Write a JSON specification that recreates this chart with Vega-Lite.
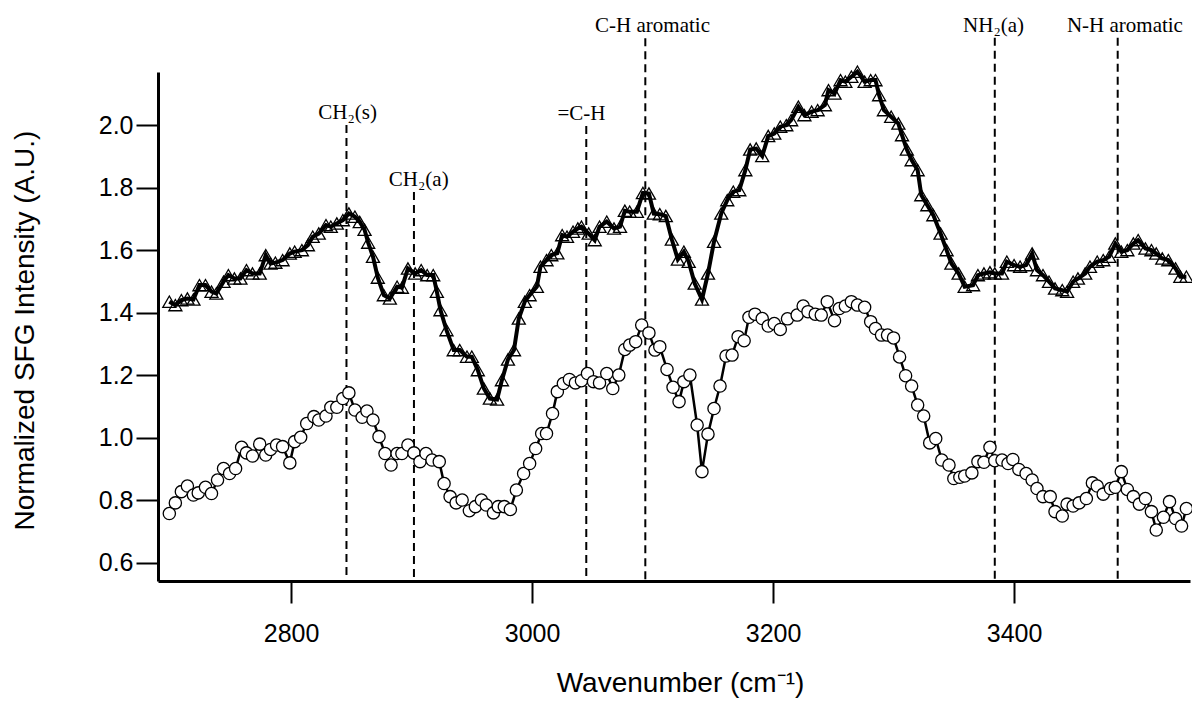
{
  "$schema": "https://vega.github.io/schema/vega-lite/v6.json",
  "width": 1032,
  "height": 509,
  "autosize": "none",
  "padding": {"left": 158, "top": 72, "right": 2, "bottom": 127},
  "background": "white",
  "config": {"view": {"stroke": null}},
  "datasets": {
    "tri": [
      {"wn":2699,"val":1.435},{"wn":2704,"val":1.424},{"wn":2709,"val":1.44},{"wn":2714,"val":1.445},{"wn":2719,"val":1.442},
      {"wn":2724,"val":1.488},{"wn":2729,"val":1.488},{"wn":2734,"val":1.467},{"wn":2738,"val":1.461},{"wn":2744,"val":1.499},
      {"wn":2748,"val":1.52},{"wn":2753,"val":1.509},{"wn":2758,"val":1.509},{"wn":2763,"val":1.536},{"wn":2768,"val":1.525},
      {"wn":2774,"val":1.525},{"wn":2779,"val":1.584},{"wn":2783,"val":1.557},{"wn":2787,"val":1.56},{"wn":2793,"val":1.568},
      {"wn":2799,"val":1.589},{"wn":2803,"val":1.595},{"wn":2809,"val":1.6},{"wn":2814,"val":1.616},{"wn":2818,"val":1.643},
      {"wn":2823,"val":1.653},{"wn":2829,"val":1.68},{"wn":2833,"val":1.675},{"wn":2838,"val":1.685},{"wn":2843,"val":1.696},
      {"wn":2848,"val":1.717},{"wn":2853,"val":1.707},{"wn":2857,"val":1.69},{"wn":2861,"val":1.665},{"wn":2864,"val":1.624},
      {"wn":2868,"val":1.579},{"wn":2872,"val":1.512},{"wn":2877,"val":1.456},{"wn":2882,"val":1.445},{"wn":2888,"val":1.483},
      {"wn":2892,"val":1.48},{"wn":2897,"val":1.541},{"wn":2903,"val":1.525},{"wn":2908,"val":1.536},{"wn":2913,"val":1.52},
      {"wn":2918,"val":1.52},{"wn":2921,"val":1.467},{"wn":2924,"val":1.408},{"wn":2929,"val":1.344},{"wn":2935,"val":1.28},
      {"wn":2940,"val":1.28},{"wn":2946,"val":1.259},{"wn":2950,"val":1.259},{"wn":2955,"val":1.216},{"wn":2960,"val":1.157},
      {"wn":2965,"val":1.125},{"wn":2971,"val":1.122},{"wn":2975,"val":1.184},{"wn":2980,"val":1.25},{"wn":2985,"val":1.28},
      {"wn":2989,"val":1.381},{"wn":2994,"val":1.435},{"wn":2998,"val":1.456},{"wn":3004,"val":1.483},{"wn":3007,"val":1.547},
      {"wn":3012,"val":1.568},{"wn":3016,"val":1.584},{"wn":3021,"val":1.59},{"wn":3025,"val":1.648},{"wn":3029,"val":1.643},
      {"wn":3034,"val":1.659},{"wn":3038,"val":1.669},{"wn":3041,"val":1.675},{"wn":3047,"val":1.653},{"wn":3052,"val":1.632},
      {"wn":3056,"val":1.675},{"wn":3062,"val":1.691},{"wn":3068,"val":1.669},{"wn":3073,"val":1.675},{"wn":3077,"val":1.726},
      {"wn":3081,"val":1.723},{"wn":3087,"val":1.723},{"wn":3092,"val":1.783},{"wn":3097,"val":1.781},{"wn":3101,"val":1.717},
      {"wn":3106,"val":1.715},{"wn":3111,"val":1.709},{"wn":3116,"val":1.634},{"wn":3121,"val":1.57},{"wn":3126,"val":1.595},
      {"wn":3130,"val":1.563},{"wn":3135,"val":1.493},{"wn":3141,"val":1.442},{"wn":3146,"val":1.525},{"wn":3151,"val":1.627},
      {"wn":3157,"val":1.717},{"wn":3162,"val":1.76},{"wn":3167,"val":1.787},{"wn":3172,"val":1.792},{"wn":3177,"val":1.856},
      {"wn":3181,"val":1.922},{"wn":3186,"val":1.925},{"wn":3191,"val":1.901},{"wn":3196,"val":1.965},{"wn":3201,"val":1.973},
      {"wn":3206,"val":1.995},{"wn":3211,"val":2.0},{"wn":3215,"val":2.016},{"wn":3221,"val":2.059},{"wn":3226,"val":2.032},
      {"wn":3232,"val":2.043},{"wn":3237,"val":2.048},{"wn":3243,"val":2.064},{"wn":3246,"val":2.112},{"wn":3251,"val":2.101},
      {"wn":3256,"val":2.144},{"wn":3260,"val":2.139},{"wn":3265,"val":2.155},{"wn":3270,"val":2.171},{"wn":3276,"val":2.139},
      {"wn":3281,"val":2.144},{"wn":3285,"val":2.144},{"wn":3288,"val":2.096},{"wn":3292,"val":2.048},{"wn":3298,"val":2.027},
      {"wn":3304,"val":2.005},{"wn":3307,"val":1.968},{"wn":3311,"val":1.922},{"wn":3315,"val":1.888},{"wn":3320,"val":1.856},
      {"wn":3323,"val":1.776},{"wn":3328,"val":1.744},{"wn":3333,"val":1.712},{"wn":3339,"val":1.653},{"wn":3344,"val":1.6},
      {"wn":3348,"val":1.557},{"wn":3354,"val":1.525},{"wn":3359,"val":1.483},{"wn":3366,"val":1.488},{"wn":3370,"val":1.52},
      {"wn":3375,"val":1.525},{"wn":3380,"val":1.529},{"wn":3384,"val":1.525},{"wn":3390,"val":1.525},{"wn":3394,"val":1.563},
      {"wn":3400,"val":1.552},{"wn":3405,"val":1.547},{"wn":3410,"val":1.552},{"wn":3415,"val":1.589},{"wn":3419,"val":1.536},
      {"wn":3424,"val":1.52},{"wn":3429,"val":1.499},{"wn":3434,"val":1.477},{"wn":3440,"val":1.472},{"wn":3444,"val":1.467},
      {"wn":3449,"val":1.499},{"wn":3453,"val":1.509},{"wn":3459,"val":1.525},{"wn":3463,"val":1.547},{"wn":3469,"val":1.563},
      {"wn":3474,"val":1.568},{"wn":3479,"val":1.579},{"wn":3484,"val":1.621},{"wn":3489,"val":1.595},{"wn":3494,"val":1.6},
      {"wn":3499,"val":1.621},{"wn":3503,"val":1.632},{"wn":3509,"val":1.605},{"wn":3514,"val":1.6},{"wn":3518,"val":1.589},
      {"wn":3523,"val":1.573},{"wn":3528,"val":1.568},{"wn":3534,"val":1.541},{"wn":3538,"val":1.515},{"wn":3543,"val":1.515}
    ],
    "circ": [
      {"wn":2699,"val":0.757},{"wn":2704,"val":0.791},{"wn":2709,"val":0.827},{"wn":2714,"val":0.845},{"wn":2719,"val":0.816},
      {"wn":2723,"val":0.823},{"wn":2729,"val":0.841},{"wn":2734,"val":0.821},{"wn":2739,"val":0.864},{"wn":2744,"val":0.901},
      {"wn":2749,"val":0.885},{"wn":2754,"val":0.901},{"wn":2759,"val":0.969},{"wn":2763,"val":0.951},{"wn":2768,"val":0.941},
      {"wn":2774,"val":0.979},{"wn":2779,"val":0.944},{"wn":2783,"val":0.962},{"wn":2788,"val":0.976},{"wn":2793,"val":0.971},
      {"wn":2799,"val":0.919},{"wn":2803,"val":0.987},{"wn":2808,"val":1.001},{"wn":2813,"val":1.045},{"wn":2819,"val":1.067},
      {"wn":2823,"val":1.056},{"wn":2829,"val":1.069},{"wn":2833,"val":1.097},{"wn":2838,"val":1.097},{"wn":2843,"val":1.125},
      {"wn":2848,"val":1.143},{"wn":2853,"val":1.088},{"wn":2859,"val":1.065},{"wn":2863,"val":1.085},{"wn":2868,"val":1.056},
      {"wn":2873,"val":1.003},{"wn":2878,"val":0.949},{"wn":2883,"val":0.912},{"wn":2888,"val":0.949},{"wn":2892,"val":0.949},
      {"wn":2897,"val":0.976},{"wn":2902,"val":0.951},{"wn":2907,"val":0.923},{"wn":2912,"val":0.949},{"wn":2917,"val":0.928},
      {"wn":2923,"val":0.923},{"wn":2927,"val":0.853},{"wn":2932,"val":0.811},{"wn":2937,"val":0.791},{"wn":2942,"val":0.8},
      {"wn":2948,"val":0.766},{"wn":2953,"val":0.779},{"wn":2958,"val":0.8},{"wn":2962,"val":0.784},{"wn":2968,"val":0.759},
      {"wn":2972,"val":0.779},{"wn":2977,"val":0.779},{"wn":2982,"val":0.77},{"wn":2987,"val":0.832},{"wn":2993,"val":0.885},
      {"wn":2998,"val":0.917},{"wn":3003,"val":0.965},{"wn":3008,"val":1.013},{"wn":3012,"val":1.013},{"wn":3017,"val":1.077},
      {"wn":3021,"val":1.147},{"wn":3026,"val":1.173},{"wn":3031,"val":1.186},{"wn":3036,"val":1.175},{"wn":3041,"val":1.182},
      {"wn":3046,"val":1.205},{"wn":3051,"val":1.179},{"wn":3056,"val":1.175},{"wn":3062,"val":1.205},{"wn":3067,"val":1.157},
      {"wn":3072,"val":1.2},{"wn":3077,"val":1.282},{"wn":3081,"val":1.296},{"wn":3086,"val":1.307},{"wn":3091,"val":1.36},
      {"wn":3097,"val":1.335},{"wn":3102,"val":1.28},{"wn":3106,"val":1.291},{"wn":3112,"val":1.218},{"wn":3117,"val":1.161},
      {"wn":3122,"val":1.115},{"wn":3126,"val":1.179},{"wn":3131,"val":1.2},{"wn":3137,"val":1.04},{"wn":3141,"val":0.891},
      {"wn":3146,"val":1.011},{"wn":3151,"val":1.093},{"wn":3156,"val":1.165},{"wn":3161,"val":1.261},{"wn":3166,"val":1.264},
      {"wn":3171,"val":1.323},{"wn":3176,"val":1.31},{"wn":3180,"val":1.385},{"wn":3185,"val":1.395},{"wn":3191,"val":1.381},
      {"wn":3196,"val":1.357},{"wn":3201,"val":1.365},{"wn":3206,"val":1.346},{"wn":3212,"val":1.38},{"wn":3220,"val":1.392},
      {"wn":3225,"val":1.421},{"wn":3229,"val":1.403},{"wn":3235,"val":1.395},{"wn":3240,"val":1.392},{"wn":3245,"val":1.435},
      {"wn":3251,"val":1.374},{"wn":3255,"val":1.413},{"wn":3260,"val":1.421},{"wn":3265,"val":1.435},{"wn":3270,"val":1.424},
      {"wn":3276,"val":1.417},{"wn":3281,"val":1.371},{"wn":3285,"val":1.349},{"wn":3290,"val":1.328},{"wn":3295,"val":1.328},
      {"wn":3300,"val":1.319},{"wn":3305,"val":1.258},{"wn":3310,"val":1.198},{"wn":3315,"val":1.165},{"wn":3320,"val":1.104},
      {"wn":3325,"val":1.069},{"wn":3330,"val":0.983},{"wn":3335,"val":0.997},{"wn":3340,"val":0.928},{"wn":3346,"val":0.912},
      {"wn":3350,"val":0.869},{"wn":3355,"val":0.873},{"wn":3359,"val":0.877},{"wn":3365,"val":0.887},{"wn":3370,"val":0.923},
      {"wn":3375,"val":0.921},{"wn":3380,"val":0.969},{"wn":3384,"val":0.926},{"wn":3390,"val":0.928},{"wn":3395,"val":0.917},
      {"wn":3399,"val":0.93},{"wn":3404,"val":0.898},{"wn":3410,"val":0.885},{"wn":3415,"val":0.864},{"wn":3419,"val":0.837},
      {"wn":3424,"val":0.811},{"wn":3430,"val":0.811},{"wn":3434,"val":0.763},{"wn":3440,"val":0.749},{"wn":3444,"val":0.787},
      {"wn":3449,"val":0.781},{"wn":3454,"val":0.791},{"wn":3460,"val":0.805},{"wn":3465,"val":0.855},{"wn":3469,"val":0.845},
      {"wn":3474,"val":0.819},{"wn":3480,"val":0.837},{"wn":3484,"val":0.841},{"wn":3489,"val":0.891},{"wn":3494,"val":0.834},
      {"wn":3499,"val":0.811},{"wn":3504,"val":0.787},{"wn":3509,"val":0.805},{"wn":3514,"val":0.763},{"wn":3518,"val":0.704},
      {"wn":3524,"val":0.745},{"wn":3529,"val":0.795},{"wn":3534,"val":0.741},{"wn":3539,"val":0.717},{"wn":3543,"val":0.773}
    ],
    "ann": [
      {"wn":2846,"lwn":2847,"top":2.0,"label":"CH₂(s)"},
      {"wn":2902,"lwn":2906,"top":1.786,"label":"CH₂(a)"},
      {"wn":3045,"lwn":3041,"top":1.997,"label":"=C-H"},
      {"wn":3094,"lwn":3100,"top":2.278,"label":"C-H aromatic"},
      {"wn":3384,"lwn":3383,"top":2.28,"label":"NH₂(a)"},
      {"wn":3486,"lwn":3492,"top":2.28,"label":"N-H aromatic"}
    ]
  },
  "encoding": {
    "x": {
      "field": "wn", "type": "quantitative",
      "scale": {"domain": [2689.6, 3546], "nice": false, "zero": false},
      "axis": {
        "title": "Wavenumber (cm⁻¹)",
        "values": [2800, 3000, 3200, 3400],
        "format": "d",
        "grid": false,
        "domainColor": "black", "domainWidth": 3,
        "tickColor": "black", "tickWidth": 2, "tickSize": 22,
        "labelFont": "Liberation Sans", "labelFontSize": 25, "labelColor": "black", "labelPadding": 18,
        "titleFont": "Liberation Sans", "titleFontSize": 28, "titleFontWeight": "normal", "titleColor": "black",
        "titleBaseline": "alphabetic", "titleX": 522, "titleY": 110
      }
    }
  },
  "layer": [
    {
      "data": {"name": "ann"},
      "mark": {"type": "rule", "strokeDash": [8, 5], "strokeWidth": 2, "color": "black"},
      "encoding": {
        "y": {
          "field": "top", "type": "quantitative",
          "scale": {"domain": [0.541, 2.17], "nice": false, "zero": false},
          "axis": {
            "title": "Normalized SFG Intensity (A.U.)",
            "values": [0.6, 0.8, 1.0, 1.2, 1.4, 1.6, 1.8, 2.0],
            "format": ".1f",
            "grid": false,
            "domainColor": "black", "domainWidth": 3,
            "tickColor": "black", "tickWidth": 2, "tickSize": 22,
            "labelFont": "Liberation Sans", "labelFontSize": 25, "labelColor": "black", "labelPadding": 3,
            "titleFont": "Liberation Sans", "titleFontSize": 28, "titleFontWeight": "normal", "titleColor": "black",
            "titleBaseline": "middle", "titleX": -133, "titleY": 258
          }
        },
        "y2": {"datum": 0.545}
      }
    },
    {
      "data": {"name": "ann"},
      "mark": {"type": "text", "font": "Liberation Serif", "fontSize": 21, "color": "black", "baseline": "alphabetic", "align": "center", "dy": -6},
      "encoding": {
        "x": {"field": "lwn", "type": "quantitative"},
        "y": {"field": "top", "type": "quantitative"},
        "text": {"field": "label"}
      }
    },
    {
      "data": {"name": "tri"},
      "mark": {"type": "point", "shape": "triangle-up", "filled": false, "stroke": "black", "strokeWidth": 1.3, "size": 170, "opacity": 1},
      "encoding": {"y": {"field": "val", "type": "quantitative"}}
    },
    {
      "data": {"name": "tri"},
      "mark": {"type": "line", "color": "black", "strokeWidth": 4},
      "encoding": {"y": {"field": "val", "type": "quantitative"}}
    },
    {
      "data": {"name": "circ"},
      "mark": {"type": "line", "color": "black", "strokeWidth": 2.5},
      "encoding": {"y": {"field": "val", "type": "quantitative"}}
    },
    {
      "data": {"name": "circ"},
      "mark": {"type": "point", "shape": "circle", "filled": true, "fill": "white", "stroke": "black", "strokeWidth": 1.3, "size": 150, "opacity": 1},
      "encoding": {"y": {"field": "val", "type": "quantitative"}}
    }
  ]
}
